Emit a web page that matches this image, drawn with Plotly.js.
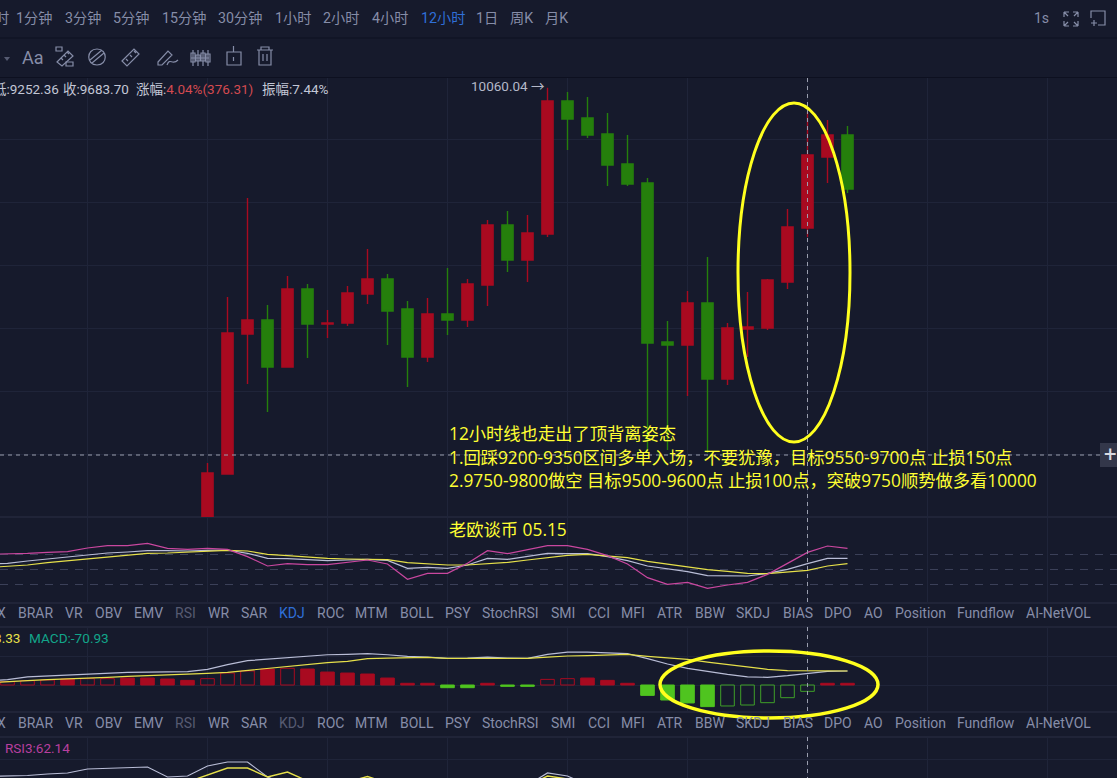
<!DOCTYPE html>
<html><head><meta charset="utf-8">
<script src="https://cdn.plot.ly/plotly-3.0.1.min.js"></script>
<style>html,body{margin:0;padding:0;background:#161a2c;overflow:hidden}#c{width:1117px;height:778px}</style>
</head><body><div id="c"></div>
<script>
const candleX=[0,1,2,3,4,5,6,7,8,9,10,11,12,13,14,15,16,17,18,19,20,21,22,23,24,25,26,27,28,29,30,31,32];
const candleOpen=[7528,7897.3,8681.3,8759.7,8496.5,8933.3,8737.3,8742.9,8905.3,8989.3,8821.3,8552.5,8793.3,8759.7,8955.7,9291.7,9095.7,9241.3,9986.1,9890.9,9801.3,9633.3,9526.9,8636.5,8619.7,8854.9,8429.3,8709.3,8714.9,8972.5,9274.9,9672.5,9795.7];
const candleHigh=[7958.9,8888.5,9442.9,8843.7,9006.1,8961.3,8815.7,8950.1,9157.3,9017.3,8866.1,8882.9,9050.9,8989.3,9319.7,9370.1,9347.7,10060.04,10036.5,10008.5,9918.9,9795.7,9554.9,8754.1,8922.1,9112.5,8742.9,8916.5,8989.3,9381.3,9924.5,9879.7,9846.1];
const candleLow=[7528,7897.3,8401.3,8244.5,8496.5,8546.9,8658.9,8726.1,8849.3,8619.7,8384.5,8524.5,8675.7,8720.5,8838.1,9028.5,8972.5,9224.5,9711.7,9778.9,9510.1,9510.1,8014.9,8031.7,8334.1,8014.9,8395.7,8552.5,8703.7,8933.3,9224.5,9526.9,9470.9];
const candleClose=[7902.9,8686.9,8759.7,8496.5,8933.3,8737.3,8742.9,8910.9,8989.3,8810.1,8552.5,8793.3,8759.7,8961.3,9291.7,9095.7,9246.9,9986.1,9885.3,9795.7,9627.7,9521.3,8630.9,8619.7,8854.9,8429.3,8714.9,8720.5,8983.7,9280.5,9683.7,9795.7,9493.3];

const indicatorX=[-11,-10,-9,-8,-7,-6,-5,-4,-3,-2,-1,0,1,2,3,4,5,6,7,8,9,10,11,12,13,14,15,16,17,18,19,20,21,22,23,24,25,26,27,28,29,30,31,32];
const kdjK=[60,61.9,66.6,70.6,73.3,77.9,82.6,84.6,87.3,87.3,86.6,87.9,88.6,81.9,71.9,71.3,69.3,67.3,68.6,69.9,67.9,51.9,53.9,51.9,58.6,71.9,69.9,75.9,81.9,81.3,81.3,75.3,67.3,56.6,50.6,45.3,37.3,36.6,36.6,41.9,49.9,61.3,71.9,71.9];
const kdjD=[53.5,55.3,58.6,63.3,67.3,69.9,74.6,77.9,81.9,82.6,84.6,85.3,87.9,86.6,79.9,77.3,73.9,71.9,70.6,69.9,69.3,63.3,60.6,58.6,58.6,61.3,63.9,68.6,73.9,77.9,79.9,77.3,73.3,65.9,59.9,55.3,49.3,45.9,41.9,41.3,43.9,47.9,56.6,61.3];
const kdjJ=[80,80.6,81.9,83.9,85.3,92.6,97.3,97.3,101.9,91.9,89.9,91.9,89.9,75.3,56.6,61.3,59.3,59.3,63.9,68.6,60.6,29.9,41.9,41.9,61.9,87.3,81.3,89.9,97.3,97.3,89.9,77.3,60.6,33.3,19.9,23.9,11.9,18.6,23.9,39.9,61.9,83.9,96.6,91.9];
const kdjLevels=[80,50,20];

const macdHist=[30,37,48,56,67,71,71,78,78,67,52,71,134,157,179,187,179,145,134,123,78,19,19,-30,-30,19,-15,-15,63,71,78,52,19,-116,-168,-201,-242,-235,-224,-198,-142,-71,19,19];
const macdHollow=[1,1,1,1,0,1,1,0,0,0,0,1,1,1,0,1,0,0,0,0,0,0,0,0,0,0,0,0,1,1,0,0,0,0,0,0,0,1,1,1,1,1,0,0];
const macdDif=[48,60,90,101,108,116,127,142,145,145,149,175,228,272,287,310,325,339,343,351,339,321,313,298,302,313,302,298,343,369,369,362,351,295,235,187,149,119,90,86,104,127,153,157];
const macdDea=[26,41,48,60,67,75,86,97,104,112,119,131,142,164,187,205,228,250,265,295,302,310,310,298,298,306,298,298,313,325,328,339,343,321,306,287,257,231,205,175,160,157,157,157];

const rsiWhite=[60.5,61,61.5,63,64,68,68.5,69,70,60,61,71,75,75,60,52,47,42,44,48,45,40,40,40,40,42,46,52,64,61,52,47,42,40,40,38,38,38,38,38,38,38,38,38];
const rsiYellow=[45,45,45,45,45,45,45,45,45,45,55,62,69,69,60,65,57,47,55,60.5,54,46,44,44,44,44,46,51,61,58,49,46,42,40,38,38,38,38,38,38,38,38,38,38];

const timeLabels=['时','1分钟','3分钟','5分钟','15分钟','30分钟','1小时','2小时','4小时','12小时','1日','周K','月K'];
const timeCenters=[2,33.5,82.5,130.5,183.5,240,292.5,340.5,389.5,442.5,487,521.5,556];
const tabLabels=['X','BRAR','VR','OBV','EMV','RSI','WR','SAR','KDJ','ROC','MTM','BOLL','PSY','StochRSI','SMI','CCI','MFI','ATR','BBW','SKDJ','BIAS','DPO','AO','Position','Fundflow','AI-NetVOL'];
const tabCenters=[1,35,73.5,108,148,185,218,253.5,291.5,330,371.5,417,458,510.5,563,598.5,633,670,709.5,753,797.5,838,873,920,986,1058.5];
const noteLines=['12小时线也走出了顶背离姿态','1.回踩9200-9350区间多单入场，不要犹豫，目标9550-9700点 止损150点','2.9750-9800做空 目标9500-9600点 止损100点，突破9750顺势做多看10000','老欧谈币 05.15'];
const noteRows=[433,457,481,529];

const W=1117,H=778,FONT='Roboto, "Noto Sans CJK SC", sans-serif';
const RED='#a80a20',GREEN='#257f0c',LIME='#4fc41f',LIMEEDGE='#3f9f28',TXT='#868da8',DIM='#565b72',BLUE='#2f6fd8';
const dom=(t,b)=>[1-b/H,1-t/H];
const fx=x=>x/W,fy=y=>1-y/H;
const pth=s=>s.replace(/(-?[\d.]+) (-?[\d.]+)/g,(m,a,b)=>fx(+a).toFixed(5)+' '+fy(+b).toFixed(5));

const traces=[
 {type:'candlestick',x:candleX,open:candleOpen,high:candleHigh,low:candleLow,close:candleClose,xaxis:'x',yaxis:'y',whiskerwidth:0,
  increasing:{line:{color:RED,width:1.4},fillcolor:RED},decreasing:{line:{color:GREEN,width:1.4},fillcolor:GREEN}},
 {type:'scatter',mode:'lines',x:indicatorX,y:kdjK,xaxis:'x',yaxis:'y2',line:{color:'#b9bdd6',width:1.2}},
 {type:'scatter',mode:'lines',x:indicatorX,y:kdjD,xaxis:'x',yaxis:'y2',line:{color:'#e6e04a',width:1.2}},
 {type:'scatter',mode:'lines',x:indicatorX,y:kdjJ,xaxis:'x',yaxis:'y2',line:{color:'#c9479f',width:1.2}},
 {type:'bar',x:indicatorX,y:macdHist,xaxis:'x',yaxis:'y3',width:0.68,
  marker:{color:macdHist.map((v,i)=>macdHollow[i]?'rgba(0,0,0,0)':(v>=0?RED:LIME)),
          line:{width:1,color:macdHist.map((v,i)=>v>=0?RED:(macdHollow[i]?LIMEEDGE:LIME))}}},
 {type:'scatter',mode:'lines',x:indicatorX,y:macdDif,xaxis:'x',yaxis:'y3',line:{color:'#b9bdd6',width:1.2}},
 {type:'scatter',mode:'lines',x:indicatorX,y:macdDea,xaxis:'x',yaxis:'y3',line:{color:'#e6e04a',width:1.2}},
 {type:'scatter',mode:'lines',x:indicatorX,y:rsiWhite,xaxis:'x',yaxis:'y4',line:{color:'#b9bdd6',width:1.2}},
 {type:'scatter',mode:'lines',x:indicatorX,y:rsiYellow,xaxis:'x',yaxis:'y4',line:{color:'#e6e04a',width:1.4}}
];

const hLine=(y,c)=>({type:'line',xref:'paper',yref:'paper',x0:0,x1:1,y0:fy(y),y1:fy(y),line:{color:c,width:1},layer:'below'});
const vCross=(t,b)=>({type:'line',xref:'x',yref:'paper',x0:30,x1:30,y0:fy(t),y1:fy(b),line:{color:'#9a9eae',width:1,dash:'4px,4px'}});
const icon=(d,w)=>({type:'path',xref:'paper',yref:'paper',path:pth(d),line:{color:TXT,width:w||1.2}});
const shapes=[
 hLine(38,'#0d1020'),hLine(77.5,'#0d1020'),hLine(517,'#2a2f45'),hLine(603,'#2a2f45'),hLine(627,'#2a2f45'),hLine(712,'#2a2f45'),hLine(737,'#2a2f45'),
 vCross(78,603),vCross(627,712),vCross(737,778),
 {type:'line',xref:'paper',yref:'y',x0:0,x1:1100/W,y0:8003.7,y1:8003.7,line:{color:'#9a9eae',width:1,dash:'4px,4px'}},
 {type:'rect',xref:'paper',yref:'paper',x0:fx(1100),x1:1,y0:fy(443),y1:fy(467),fillcolor:'#33374a',line:{width:0}},
 {type:'circle',xref:'paper',yref:'paper',x0:fx(738),x1:fx(850),y0:fy(442),y1:fy(103),line:{color:'#ffff1e',width:3}},
 {type:'circle',xref:'paper',yref:'paper',x0:fx(660),x1:fx(878),y0:fy(718),y1:fy(651),line:{color:'#ffff1e',width:3.5}},
 {type:'path',xref:'paper',yref:'paper',path:pth('M 4 57 L 10 57 L 7 61 Z'),fillcolor:DIM,line:{width:0}},
 icon('M 57 62 L 68 51 L 73 56 L 62 66 Z M 61 58 L 63 60 M 64 55 L 66 57 M 67 52 L 69 54'),
 icon('M 56 47 L 62 47 L 62 51 L 56 51 Z M 66 62 L 73 62 L 73 66 L 66 66 Z'),
 icon('M 97 49 C 108 49 108 65 97 65 C 86 65 86 49 97 49 Z M 90 60 L 102 50 M 92 63 L 104 53'),
 icon('M 122 61 L 134 49 L 139 54 L 127 66 Z M 126 59 L 128 61 M 130 55 L 132 57 M 134 51 L 136 53'),
 icon('M 158 62 L 168 51 L 172 55 L 162 65 L 158 65 Z M 167 65 C 170 57 172 66 178 60'),
 icon('M 191 58 L 209 58 M 193 50 L 193 66 M 198 50 L 198 66 M 203 50 L 203 66 M 208 50 L 208 66 M 191 53 L 195 53 L 195 62 L 191 62 Z M 196 55 L 200 55 L 200 61 L 196 61 Z M 201 53 L 205 53 L 205 61 L 201 61 Z M 206 54 L 210 54 L 210 62 L 206 62 Z'),
 icon('M 227 52 L 241 52 L 241 65 L 227 65 Z M 233.5 46 L 233.5 52 M 233.5 57 L 233.5 61'),
 icon('M 257 50 L 273 50 M 259 50 L 259 65 L 271 65 L 271 50 M 261 50 L 261 47 L 269 47 L 269 50 M 263 54 L 263 61 M 267 54 L 267 61'),
 icon('M 1064 12 L 1069 12 M 1064 12 L 1064 17 M 1064 12 L 1068 16 M 1078 12 L 1073 12 M 1078 12 L 1078 17 M 1078 12 L 1074 16 M 1064 26 L 1069 26 M 1064 26 L 1064 21 M 1064 26 L 1068 22 M 1078 26 L 1073 26 M 1078 26 L 1078 21 M 1078 26 L 1074 22'),
 icon('M 1091 18 L 1091 11 L 1105 11 L 1105 25 L 1098 25 M 1091 23 L 1097 23 M 1094 20 L 1094 26')
];

const ann=(x,y,text,o)=>Object.assign({xref:'paper',yref:'paper',x:fx(x),y:fy(y),text:text,showarrow:false,xanchor:'center',yanchor:'middle',align:'left',font:{family:FONT,size:14,color:TXT}},o||{});
const annotations=[];
timeLabels.forEach((t,i)=>annotations.push(ann(timeCenters[i],18,t,{font:{family:FONT,size:14.2,color:t==='12小时'?BLUE:TXT}})));
annotations.push(ann(1041,18,'1s',{font:{family:FONT,size:14,color:TXT}}));
annotations.push(ann(33,57,'Aa',{font:{family:FONT,size:18,color:TXT}}));
tabLabels.forEach((t,i)=>{
 annotations.push(ann(tabCenters[i],613,t,{font:{family:FONT,size:14,color:t==='RSI'?DIM:(t==='KDJ'?BLUE:TXT)}}));
 annotations.push(ann(tabCenters[i],723,t,{font:{family:FONT,size:14,color:(t==='RSI'||t==='KDJ')?DIM:TXT}}));
});
annotations.push(ann(61,89,'低:9252.36',{xanchor:'right',font:{family:FONT,size:13.5,color:'#c3c7d6'}}));
annotations.push(ann(61,89,'收:9683.70',{xanchor:'left',font:{family:FONT,size:13.5,color:'#c3c7d6'}}));
annotations.push(ann(134,89,'涨幅:<span style="color:#d44a50">4.04%(376.31)</span>',{xanchor:'left',font:{family:FONT,size:13.5,color:'#c3c7d6'}}));
annotations.push(ann(260,89,'振幅:7.44%',{xanchor:'left',font:{family:FONT,size:13.5,color:'#c3c7d6'}}));
annotations.push(ann(469,86,'10060.04 →',{xanchor:'left',font:{family:FONT,size:13.5,color:'#b4b8c8'}}));
annotations.push(ann(23,638,'3.33',{xanchor:'right',font:{family:FONT,size:13.6,color:'#e6e04a'}}));
annotations.push(ann(27,638,'MACD:-70.93',{xanchor:'left',font:{family:FONT,size:13.6,color:'#12a58a'}}));
annotations.push(ann(3,748,'RSI3:62.14',{xanchor:'left',font:{family:FONT,size:13.5,color:'#b83f9f'}}));
annotations.push(ann(1110,455,'+',{font:{family:FONT,size:22,color:'#d8dae2'}}));
noteLines.forEach((t,i)=>annotations.push(ann(447,noteRows[i],t,{xanchor:'left',font:{family:'"Open Sans", "Noto Sans CJK SC", sans-serif',size:17.3,color:'#ffff33'}})));

const baseY={showticklabels:false,ticks:'',zeroline:false,showline:false,fixedrange:true,anchor:'x'};
const layout={
 width:W,height:H,margin:{l:0,r:0,t:0,b:0},paper_bgcolor:'#161a2c',plot_bgcolor:'#161a2c',showlegend:false,barmode:'overlay',boxgap:0.2,
 font:{family:FONT},
 xaxis:{type:'linear',range:[-10.375,45.475],domain:[0,1],rangeslider:{visible:false},showticklabels:false,ticks:'',zeroline:false,showline:false,
        tick0:0,dtick:6,showgrid:true,gridcolor:'#1f2439',gridwidth:1,anchor:'y'},
 yaxis:Object.assign({},baseY,{domain:dom(78,517),range:[7656.5,10114.9],tick0:8714.9,dtick:352.8,showgrid:true,gridcolor:'#1f2439'}),
 yaxis2:Object.assign({},baseY,{domain:dom(517,603),range:[-17.4,154.6],tickmode:'array',tickvals:kdjLevels,showgrid:true,gridcolor:'#3b4058',griddash:'8px,7px'}),
 yaxis3:Object.assign({},baseY,{domain:dom(627,712),range:[-302.4,649.6],tickmode:'array',tickvals:[0,320],showgrid:true,gridcolor:'#1f2439'}),
 yaxis4:Object.assign({},baseY,{domain:dom(737,778),range:[59,100],tickmode:'array',tickvals:[78],showgrid:true,gridcolor:'#1f2439'}),
 shapes:shapes,annotations:annotations
};
Plotly.newPlot('c',traces,layout,{staticPlot:true,displayModeBar:false});
</script></body></html>
